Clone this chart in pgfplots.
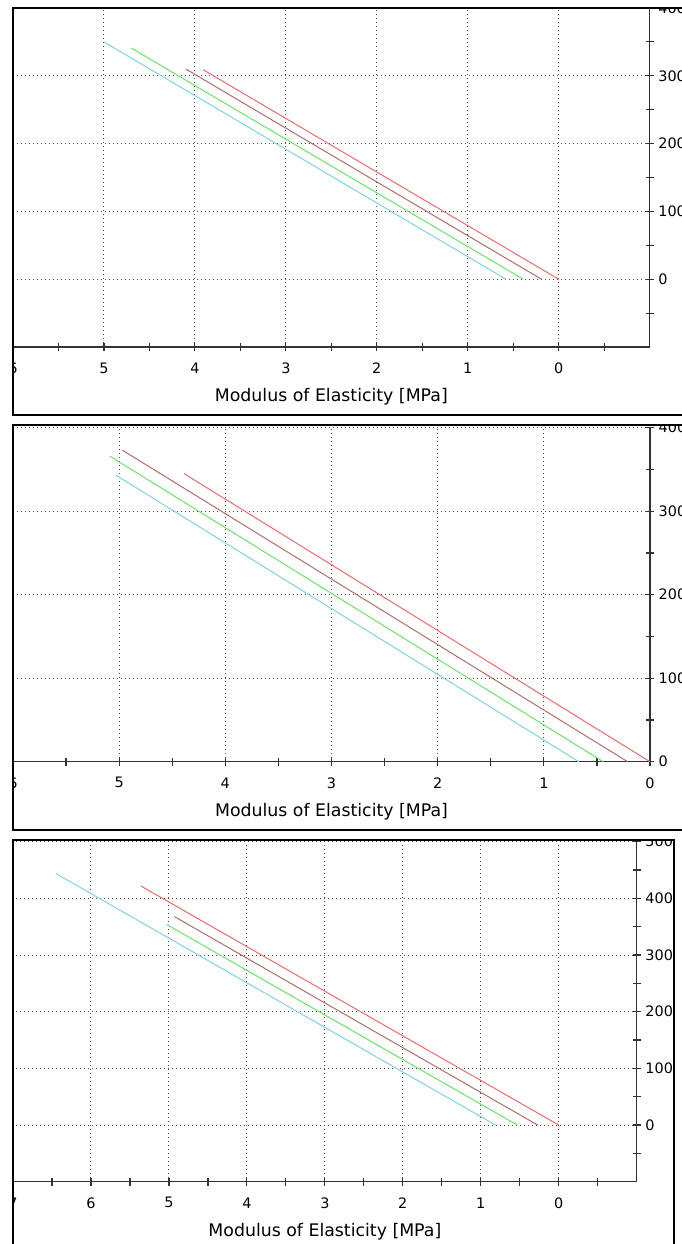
\documentclass[border=0pt]{standalone}
\usepackage{fontspec}
\setmainfont{DejaVu Sans}
\usepackage{pgfplots}
\pgfplotsset{compat=1.18}

\definecolor{ccyan}{RGB}{125,212,218}
\definecolor{cgreen}{RGB}{105,228,105}
\definecolor{cbrown}{RGB}{178,108,108}
\definecolor{cred}{RGB}{238,105,105}

\pgfplotsset{
  modpanel/.style={
    anchor=south west,
    scale only axis,
    axis x line*=bottom,
    axis y line*=right,
    x dir=reverse,
    axis line style={black!80, line width=1pt},
    tick style={black!80, line width=0.9pt},
    tick align=center,
    major tick length=6pt,
    minor tick length=6pt,
    grid=major,
    major grid style={black!70, line width=0.8pt, dash pattern=on 0.8pt off 2.2pt},
    tick label style={font=\fontsize{10.8}{12}\selectfont},
    /pgf/number format/assume math mode=true,
    yticklabel style={anchor=west, xshift=0pt},
    xticklabel style={anchor=center, yshift=-12.8pt},
    xlabel={Modulus of Elasticity [MPa]},
    xlabel style={font=\fontsize{13}{15}\selectfont, at={(rel axis cs:0.5,0)}, anchor=center, yshift=-37.5pt},
    clip=true,
  },
  cy/.style={ccyan, line width=0.75pt},
  gr/.style={cgreen, line width=0.75pt},
  br/.style={cbrown, line width=0.75pt},
  rd/.style={cred, line width=0.75pt},
}

\begin{document}
\begin{tikzpicture}
\useasboundingbox (0pt,0pt) rectangle (510.75pt,-933pt);

% panel 1
\begin{scope}
\clip (9.75pt,-6pt) rectangle (530pt,-311.25pt);
\begin{axis}[modpanel,
  at={(9.75pt,-260.25pt)}, width=477.5pt, height=254.25pt,
  xmin=-1, xmax=6, ymin=-100, ymax=400,
  xtick={0,1,2,3,4,5,6}, minor xtick={-0.5,0.5,1.5,2.5,3.5,4.5,5.5},
  ytick={0,100,200,300,400}, minor ytick={-50,50,150,250,350},
]
\addplot[cy] coordinates {(5.00,350) (0.58,0)};
\addplot[gr] coordinates {(4.70,341) (0.39,0)};
\addplot[br] coordinates {(4.10,310) (0.19,0)};
\addplot[rd] coordinates {(3.91,309) (0,0)};
\end{axis}
\end{scope}
\draw[black, line width=1.1pt] (530pt,-6pt) -- (9.75pt,-6pt) -- (9.75pt,-311.25pt) -- (530pt,-311.25pt);

% panel 2
\begin{scope}
\clip (9.75pt,-318.75pt) rectangle (530pt,-622.5pt);
\begin{axis}[modpanel,
  at={(9.75pt,-571.3pt)}, width=477.75pt, height=250.6pt,
  xmin=0, xmax=6, ymin=0, ymax=400,
  xtick={0,1,2,3,4,5,6}, minor xtick={0.5,1.5,2.5,3.5,4.5,5.5},
  ytick={0,100,200,300,400}, minor ytick={50,150,250,350},
]
\addplot[cy] coordinates {(5.03,343) (0.67,0)};
\addplot[gr] coordinates {(5.09,366) (0.44,0)};
\addplot[br] coordinates {(4.97,373) (0.21,0)};
\addplot[rd] coordinates {(4.39,345) (0,0)};
\end{axis}
\end{scope}
\draw[black, line width=1.1pt] (530pt,-318.75pt) -- (9.75pt,-318.75pt) -- (9.75pt,-622.5pt) -- (530pt,-622.5pt);

% panel 3
\begin{scope}
\clip (9.75pt,-630pt) rectangle (505.5pt,-940pt);
\begin{axis}[modpanel,
  at={(9.75pt,-886.3pt)}, width=467.8pt, height=255pt,
  xmin=-1, xmax=7, ymin=-100, ymax=500,
  xtick={0,1,2,3,4,5,6,7}, minor xtick={-0.5,0.5,1.5,2.5,3.5,4.5,5.5,6.5},
  ytick={0,100,200,300,400,500}, minor ytick={-50,50,150,250,350,450},
]
\addplot[cy] coordinates {(6.45,444) (0.81,0)};
\addplot[gr] coordinates {(5.03,354) (0.53,0)};
\addplot[br] coordinates {(4.93,368) (0.27,0)};
\addplot[rd] coordinates {(5.36,422) (0,0)};
\end{axis}
\end{scope}
\draw[black, line width=1.1pt] (9.75pt,-940pt) -- (9.75pt,-630pt) -- (505.5pt,-630pt) -- (505.5pt,-940pt);
\end{tikzpicture}
\end{document}
